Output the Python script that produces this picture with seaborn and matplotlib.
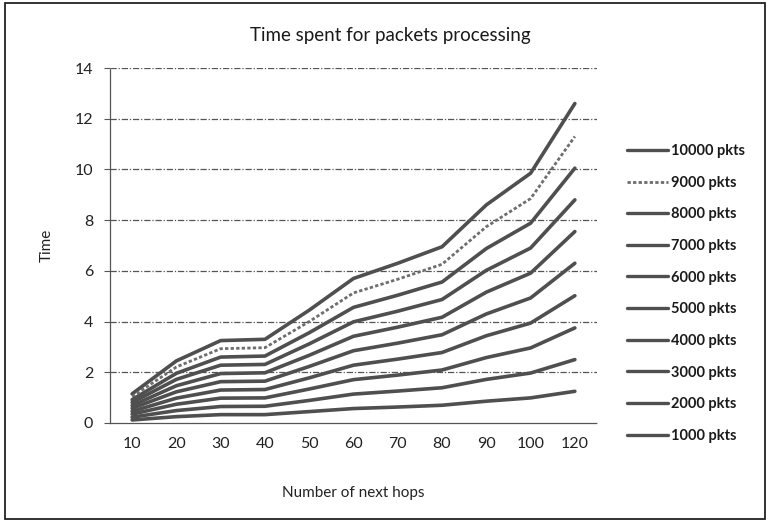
import matplotlib
matplotlib.use("Agg")
import matplotlib.pyplot as plt
import seaborn as sns
import pandas as pd
from matplotlib.patches import Rectangle
from matplotlib.lines import Line2D

# Category axis: number of next hops (note there is no 110 category)
hops = ["10", "20", "30", "40", "50", "60", "70", "80", "90", "100", "120"]

# Processing time for each packet count
t10000 = [1.15, 2.45, 3.25, 3.30, 4.45, 5.70, 6.30, 6.95, 8.60, 9.85, 12.60]
t9000 = [1.04, 2.21, 2.93, 2.97, 4.00, 5.13, 5.67, 6.26, 7.74, 8.85, 11.30]
t8000 = [0.92, 1.96, 2.60, 2.64, 3.56, 4.56, 5.04, 5.56, 6.88, 7.88, 10.05]
t7000 = [0.81, 1.72, 2.28, 2.31, 3.12, 3.99, 4.41, 4.87, 6.02, 6.90, 8.80]
t6000 = [0.69, 1.47, 1.95, 1.98, 2.67, 3.42, 3.78, 4.17, 5.16, 5.91, 7.55]
t5000 = [0.58, 1.23, 1.63, 1.65, 2.23, 2.85, 3.15, 3.48, 4.30, 4.93, 6.30]
t4000 = [0.46, 0.98, 1.30, 1.32, 1.78, 2.28, 2.52, 2.78, 3.44, 3.94, 5.02]
t3000 = [0.35, 0.74, 0.98, 0.99, 1.34, 1.71, 1.89, 2.09, 2.58, 2.96, 3.75]
t2000 = [0.23, 0.49, 0.65, 0.66, 0.89, 1.14, 1.26, 1.39, 1.72, 1.97, 2.50]
t1000 = [0.12, 0.25, 0.33, 0.33, 0.45, 0.57, 0.63, 0.70, 0.86, 0.99, 1.25]

series_labels = ["10000 pkts", "9000 pkts", "8000 pkts", "7000 pkts", "6000 pkts",
                 "5000 pkts", "4000 pkts", "3000 pkts", "2000 pkts", "1000 pkts"]
series_values = [t10000, t9000, t8000, t7000, t6000, t5000, t4000, t3000, t2000, t1000]

y_ticks = [0, 2, 4, 6, 8, 10, 12, 14]

sns.set_theme(style="white")
plt.rcParams["font.family"] = ["Lato", "DejaVu Sans"]

rows = []
for lab, vals in zip(series_labels, series_values):
    for i, v in enumerate(vals):
        rows.append({"pos": i, "time": v, "series": lab})
df = pd.DataFrame(rows)

fig = plt.figure(figsize=(7.68, 5.24), dpi=100)
fig.patch.set_facecolor("white")
ax = fig.add_axes([110 / 768, 1 - 423 / 524, 487 / 768, 355 / 524])

line_col = "#4f4f4f"
for lab in series_labels:
    sub = df[df["series"] == lab]
    if lab == "9000 pkts":
        sns.lineplot(data=sub, x="pos", y="time", ax=ax, color="#6e6e6e",
                     linewidth=2.0, legend=False)
        ax.lines[-1].set_linestyle((0, (1.2, 0.8)))
    else:
        sns.lineplot(data=sub, x="pos", y="time", ax=ax, color=line_col,
                     linewidth=2.6, legend=False)

ax.set_xlim(-0.5, len(hops) - 0.5)
ax.set_ylim(0, 14)
ax.set_yticks(y_ticks)
ax.set_yticklabels([str(v) for v in y_ticks], fontsize=11.5, color="#222222")
ax.set_xticks(range(len(hops)))
ax.set_xticklabels(hops, fontsize=11.5, color="#222222")
ax.set_xticks([k + 0.5 for k in range(-1, len(hops))], minor=True)
ax.tick_params(axis="x", which="major", length=0, pad=10.4)
ax.tick_params(axis="x", which="minor", length=4, direction="in", color="#555555", width=0.8)
ax.tick_params(axis="y", which="major", length=4, direction="out", color="#555555",
               width=0.8, pad=8, left=True)
ax.set_xlabel("Number of next hops", fontsize=11, color="#222222", labelpad=25)
ax.set_ylabel("Time", fontsize=11, color="#222222", labelpad=15)

ax.grid(False)
for v in y_ticks[1:]:
    ax.axhline(v, color="#555555", linewidth=0.9, linestyle=(0, (5, 1.5, 1, 1.5)), zorder=0)

for side in ["top", "right"]:
    ax.spines[side].set_visible(False)
for side in ["left", "bottom"]:
    ax.spines[side].set_color("#555555")
    ax.spines[side].set_linewidth(0.9)
    ax.spines[side].set_linestyle((0, (1, 1)))

fig.text(390 / 768, 1 - 35 / 524, "Time spent for packets processing",
         ha="center", va="center", fontsize=13.5, color="#1a1a1a")

handles = []
for lab in series_labels:
    if lab == "9000 pkts":
        handles.append(Line2D([], [], color="#6e6e6e", linewidth=2.0, linestyle=(0, (1.2, 0.8))))
    else:
        handles.append(Line2D([], [], color=line_col, linewidth=2.4))
leg = fig.legend(handles, series_labels, loc="upper left",
                 bbox_to_anchor=(627 / 768, 1 - 144 / 524),
                 frameon=False, handlelength=2.8, handletextpad=0.2,
                 labelspacing=1.21, borderpad=0, borderaxespad=0,
                 prop={"family": ["Lato", "DejaVu Sans"], "weight": "bold", "size": 10.5})
for t in leg.get_texts():
    t.set_color("#1a1a1a")

# Outer chart frame
fig.add_artist(Rectangle((5 / 768, 1 - 519 / 524), 760 / 768, 516 / 524,
                         transform=fig.transFigure, fill=False,
                         edgecolor="#222222", linewidth=1.3))

fig.savefig("out.png", dpi=100, facecolor="white")
